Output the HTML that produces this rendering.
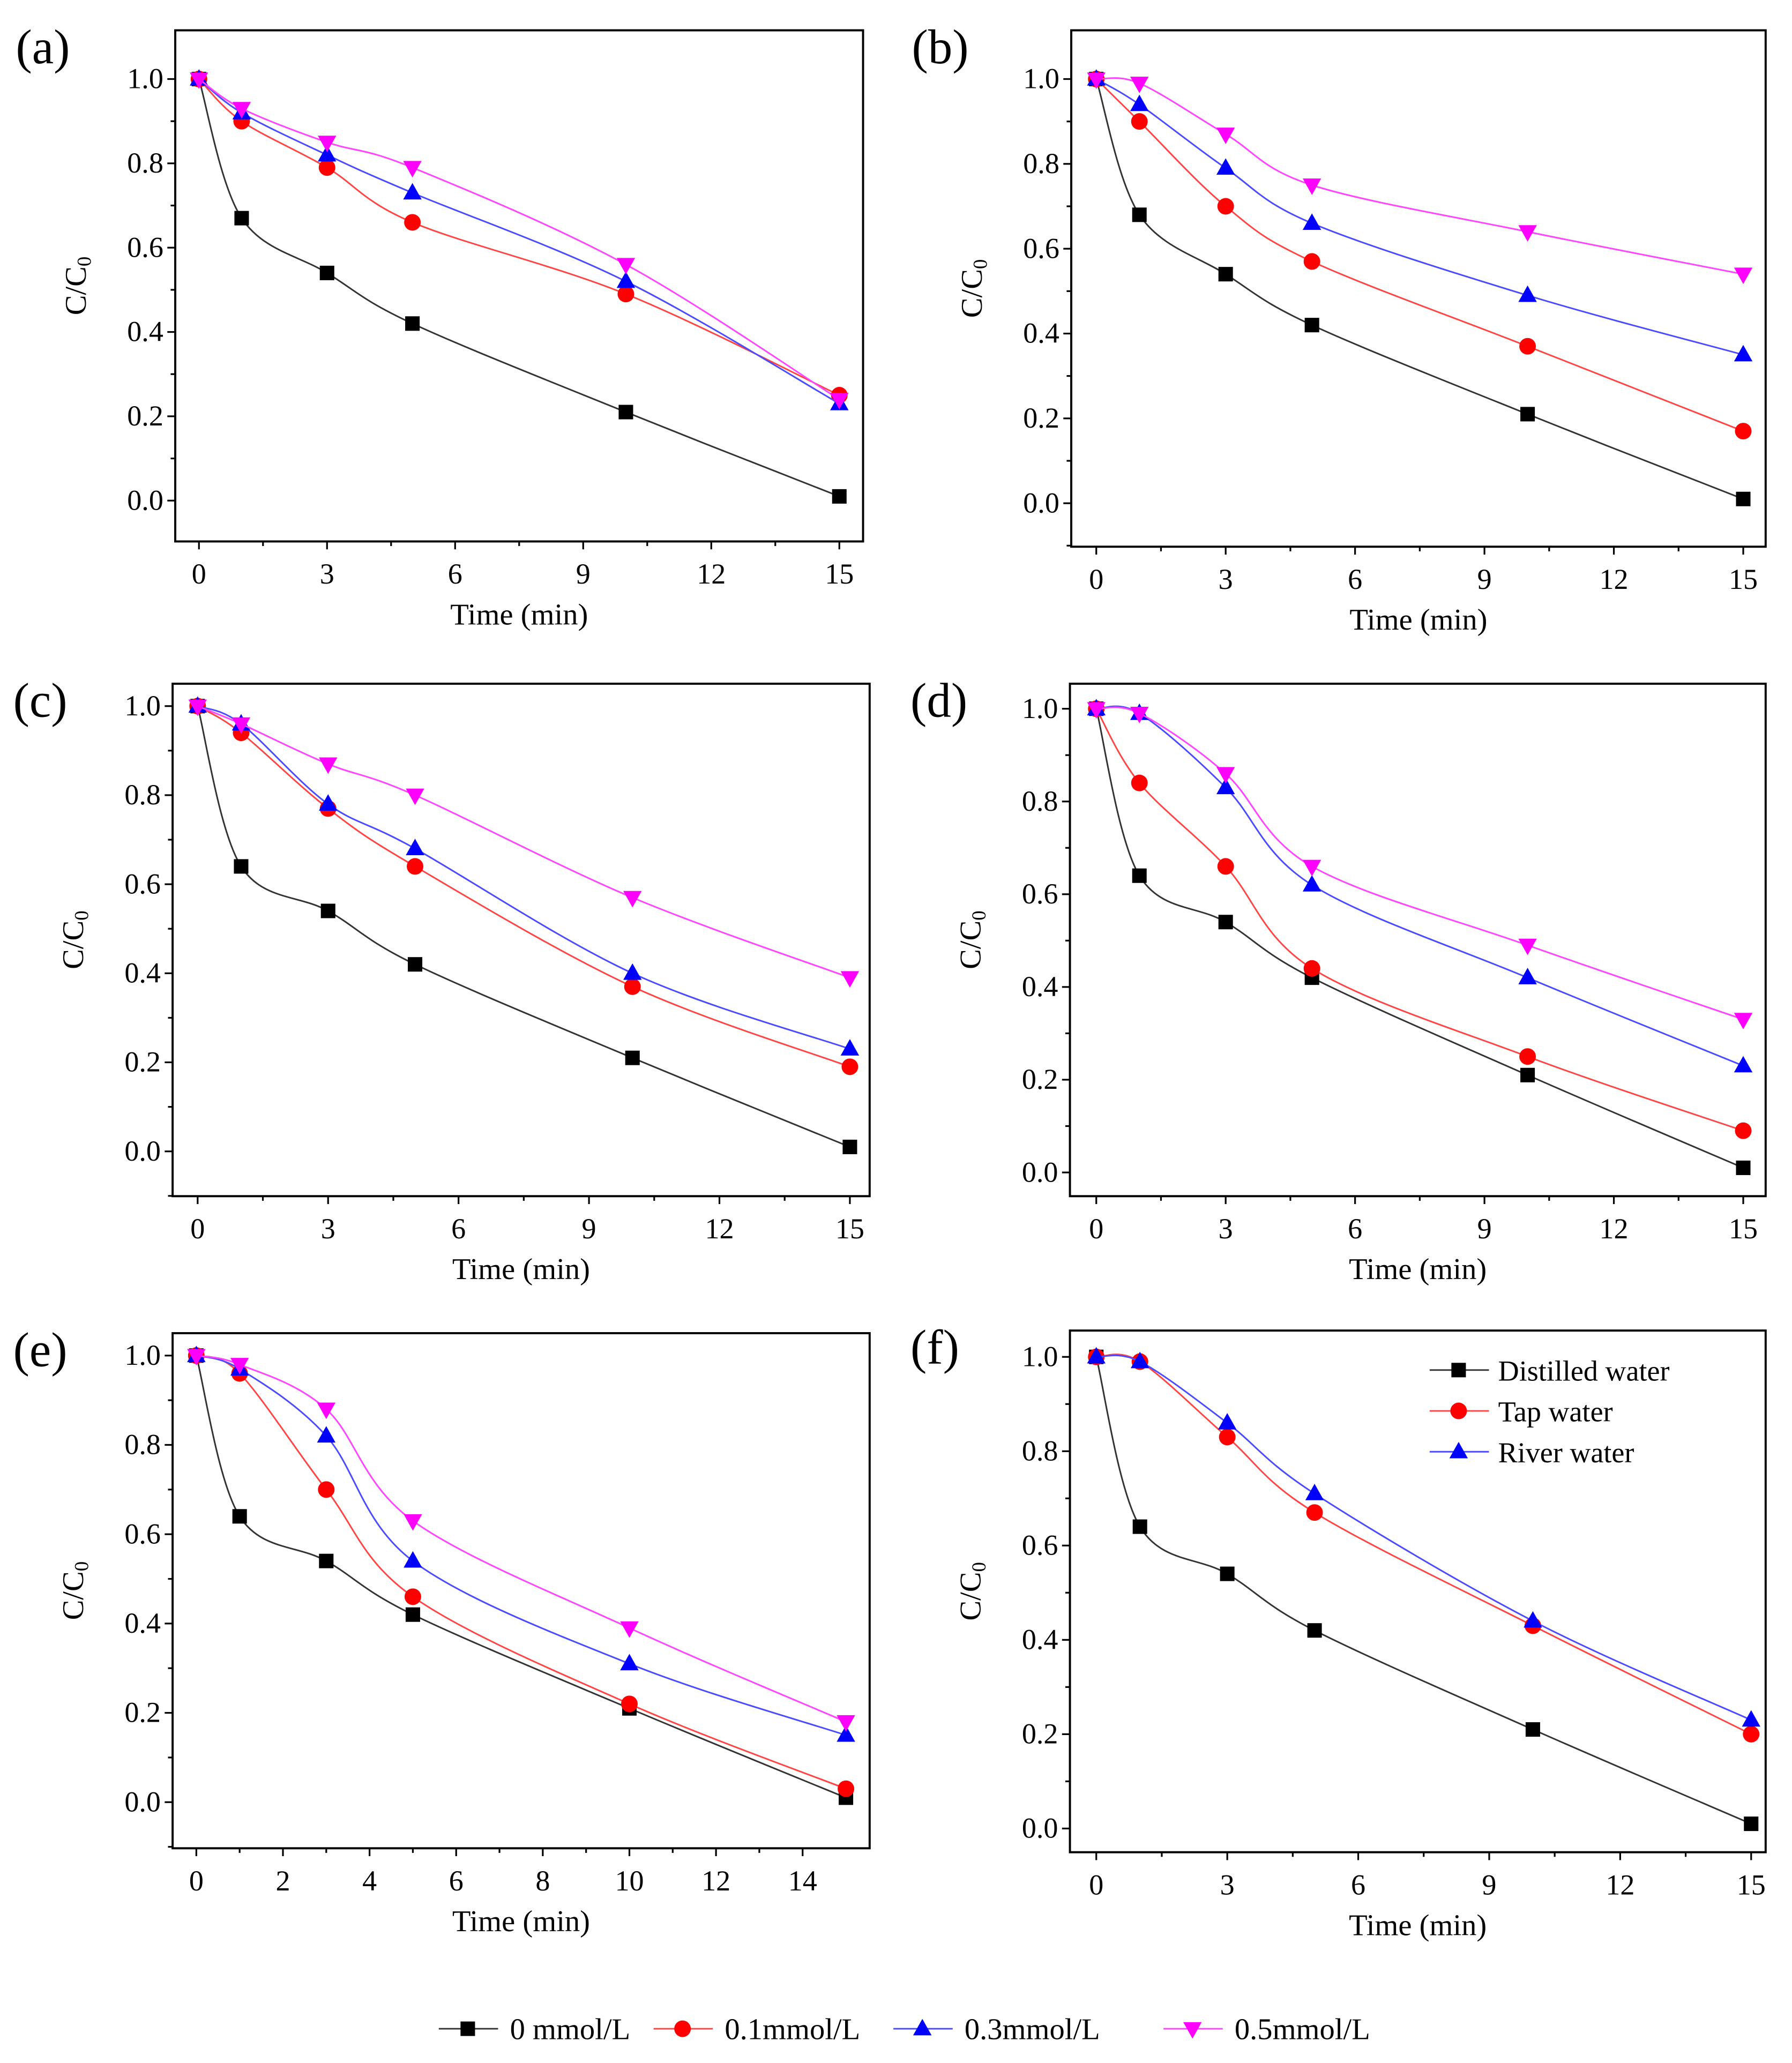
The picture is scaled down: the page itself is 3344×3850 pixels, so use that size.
<!DOCTYPE html>
<html><head><meta charset="utf-8"><style>
html,body{margin:0;padding:0;background:#fff;}
svg{display:block;}
text{font-family:"Liberation Serif",serif;fill:#000;}
</style></head><body>
<svg id="fig" width="3344" height="3850" viewBox="0 0 1360 1566" preserveAspectRatio="none" xmlns="http://www.w3.org/2000/svg">
<rect width="1360" height="1566" fill="#fff"/>
</svg>
<script>
const times = [0, 1, 3, 5, 10, 15];
const seriesNames = ["0 mmol/L", "0.1mmol/L", "0.3mmol/L", "0.5mmol/L"];
const a_black = [1, 0.67, 0.54, 0.42, 0.21, 0.01];
const a_red = [1, 0.90, 0.79, 0.66, 0.49, 0.25];
const a_blue = [1, 0.92, 0.82, 0.73, 0.52, 0.23];
const a_mag = [1, 0.93, 0.85, 0.79, 0.56, 0.24];
const b_black = [1, 0.68, 0.54, 0.42, 0.21, 0.01];
const b_red = [1, 0.90, 0.70, 0.57, 0.37, 0.17];
const b_blue = [1, 0.94, 0.79, 0.66, 0.49, 0.35];
const b_mag = [1, 0.99, 0.87, 0.75, 0.64, 0.54];
const c_black = [1, 0.64, 0.54, 0.42, 0.21, 0.01];
const c_red = [1, 0.94, 0.77, 0.64, 0.37, 0.19];
const c_blue = [1, 0.96, 0.78, 0.68, 0.40, 0.23];
const c_mag = [1, 0.96, 0.87, 0.80, 0.57, 0.39];
const d_black = [1, 0.64, 0.54, 0.42, 0.21, 0.01];
const d_red = [1, 0.84, 0.66, 0.44, 0.25, 0.09];
const d_blue = [1, 0.99, 0.83, 0.62, 0.42, 0.23];
const d_mag = [1, 0.99, 0.86, 0.66, 0.49, 0.33];
const e_black = [1, 0.64, 0.54, 0.42, 0.21, 0.01];
const e_red = [1, 0.96, 0.70, 0.46, 0.22, 0.03];
const e_blue = [1, 0.97, 0.82, 0.54, 0.31, 0.15];
const e_mag = [1, 0.98, 0.88, 0.63, 0.39, 0.18];
const f_black = [1, 0.64, 0.54, 0.42, 0.21, 0.01];
const f_red = [1, 0.99, 0.83, 0.67, 0.43, 0.20];
const f_blue = [1, 0.99, 0.86, 0.71, 0.44, 0.23];
const xTicks15 = [0, 3, 6, 9, 12, 15];
const xTicks14 = [0, 2, 4, 6, 8, 10, 12, 14];
const yTicks = [0.0, 0.2, 0.4, 0.6, 0.8, 1.0];
const fLegendNames = ["Distilled water", "Tap water", "River water"];

const NS = "http://www.w3.org/2000/svg";
const svg = document.getElementById("fig");
function el(tag, attrs, parent) {
  const e = document.createElementNS(NS, tag);
  for (const k in attrs) e.setAttribute(k, attrs[k]);
  (parent || svg).appendChild(e);
  return e;
}
const colors = ["#000000", "#ff0000", "#0000ff", "#ff00ff"];
const lineColors = ["#333333", "#ff4444", "#4a4aff", "#ff44ff"];

function marker(g, type, x, y, col) {
  let m;
  if (type === 0) m = el("rect", {x: x - 5.5, y: y - 5.5, width: 11, height: 11, fill: col}, g);
  else if (type === 1) m = el("circle", {cx: x, cy: y, r: 6.3, fill: col}, g);
  else if (type === 2) m = el("polygon", {points: `${x},${y-7.5} ${x+7},${y+5} ${x-7},${y+5}`, fill: col}, g);
  else m = el("polygon", {points: `${x},${y+7.5} ${x+7},${y-5} ${x-7},${y-5}`, fill: col}, g);
  return m;
}
function curvePath(pts) {
  let d = `M${pts[0][0]},${pts[0][1]}`;
  for (let i = 0; i < pts.length - 1; i++) {
    const p0 = pts[i - 1] || pts[i], p1 = pts[i], p2 = pts[i + 1], p3 = pts[i + 2] || p2;
    const c1 = [p1[0] + (p2[0] - p0[0]) / 6, p1[1] + (p2[1] - p0[1]) / 6];
    const c2 = [p2[0] - (p3[0] - p1[0]) / 6, p2[1] - (p3[1] - p1[1]) / 6];
    d += ` C${c1[0]},${c1[1]} ${c2[0]},${c2[1]} ${p2[0]},${p2[1]}`;
  }
  return d;
}

function panel(cfg) {
  const g = el("g", {});
  
  
  const xs = v => cfg.x0 + (v / 15) * (cfg.x15 - cfg.x0);
  const ys = v => cfg.y0 + v * (cfg.y1 - cfg.y0);
  const lab = el("text", {x: cfg.fl - 121, y: cfg.ft + 25, "font-size": 37}, g);
  lab.textContent = "(" + cfg.id + ")";
  
  
  const tg = el("g", {stroke: "#000", "stroke-width": 1.3}, g);
  cfg.xt.forEach((t, i) => {
    const x = xs(t);
    el("line", {x1: x, y1: cfg.fb, x2: x, y2: cfg.fb + 6}, tg);
    if (i < cfg.xt.length - 1) {
      const xm = xs((t + cfg.xt[i + 1]) / 2);
      el("line", {x1: xm, y1: cfg.fb, x2: xm, y2: cfg.fb + 3.5}, tg);
    }
    const tx = el("text", {x: x, y: cfg.fb + 32, "font-size": 22, "text-anchor": "middle"}, g);
    tx.textContent = t;
    
    
  });
  [-0.1].concat(yTicks).forEach(t => {
    const y = ys(t);
    if (y > cfg.fb + 0.5 || y < cfg.ft - 0.5) return;
    const major = Math.abs(t * 5 - Math.round(t * 5)) < 1e-6;
    el("line", {x1: cfg.fl, y1: y, x2: cfg.fl - (major ? 6 : 3.5), y2: y}, tg);
    if (major) {
      if (t < 0.95) el("line", {x1: cfg.fl, y1: ys(t + 0.1), x2: cfg.fl - 3.5, y2: ys(t + 0.1)}, tg);
      const ty = el("text", {x: cfg.fl - 9, y: y + 7, "font-size": 22, "text-anchor": "end"}, g);
      ty.textContent = t.toFixed(1);
      
      
    }
  });
  el("rect", {x: cfg.fl, y: cfg.ft, width: cfg.fr - cfg.fl, height: cfg.fb - cfg.ft, fill: "none", stroke: "#000", "stroke-width": 1.6}, g);
  const xt = el("text", {x: (cfg.fl + cfg.fr) / 2, y: cfg.fb + 63, "font-size": 23, "text-anchor": "middle"}, g);
  xt.textContent = "Time (min)";
  
  
  const ycx = cfg.fl - 68, ycy = (cfg.ft + cfg.fb) / 2;
  const yt = el("text", {x: ycx, y: ycy, "font-size": 23, "text-anchor": "middle", transform: `rotate(-90 ${ycx} ${ycy})`}, g);
  yt.innerHTML = 'C/C<tspan font-size="15" dy="4">0</tspan>';
  
  
  cfg.series.forEach((vals, si) => {
    const sg = el("g", {}, g);
    
    
    const pts = times.map((t, i) => [xs(t), ys(vals[i])]);
    el("path", {d: curvePath(pts), fill: "none", stroke: lineColors[si], "stroke-width": 1.2}, sg);
    pts.forEach(p => {
      const m = marker(sg, si, p[0], p[1], colors[si]);
      
      
    });
  });
  return g;
}

panel({id: "a", fl: 133, fr: 655, ft: 23, fb: 411, x0: 151, x15: 637, y0: 380, y1: 60, xt: xTicks15, series: [a_black, a_red, a_blue, a_mag]});
panel({id: "b", fl: 813, fr: 1340, ft: 23, fb: 415, x0: 832, x15: 1323, y0: 382, y1: 60, xt: xTicks15, series: [b_black, b_red, b_blue, b_mag]});
panel({id: "c", fl: 131, fr: 660, ft: 519, fb: 908, x0: 150, x15: 645, y0: 874, y1: 536, xt: xTicks15, series: [c_black, c_red, c_blue, c_mag]});
panel({id: "d", fl: 812, fr: 1340, ft: 519, fb: 908, x0: 832, x15: 1323, y0: 890, y1: 538, xt: xTicks15, series: [d_black, d_red, d_blue, d_mag]});
panel({id: "e", fl: 131, fr: 660, ft: 1012, fb: 1403, x0: 149, x15: 642, y0: 1368, y1: 1029, xt: xTicks14, series: [e_black, e_red, e_blue, e_mag]});
panel({id: "f", fl: 812, fr: 1340, ft: 1010, fb: 1406, x0: 832, x15: 1329, y0: 1388, y1: 1030, xt: xTicks15, series: [f_black, f_red, f_blue]});

const lf = el("g", {});


fLegendNames.forEach((n, i) => {
  const y = 1040 + i * 31;
  const eg = el("g", {}, lf);
  
  
  el("line", {x1: 1085, y1: y, x2: 1130, y2: y, stroke: lineColors[i], "stroke-width": 1.2}, eg);
  marker(eg, i, 1107, y, colors[i]);
  const t = el("text", {x: 1137, y: y + 8, "font-size": 22}, eg);
  t.textContent = n;
});

const lb = el("g", {});


const lbx = [333, 496, 678, 883];
seriesNames.forEach((n, i) => {
  const y = 1540, x = lbx[i];
  const eg = el("g", {}, lb);
  
  
  el("line", {x1: x, y1: y, x2: x + 45, y2: y, stroke: lineColors[i], "stroke-width": 1.2}, eg);
  marker(eg, i, x + 22, y, colors[i]);
  const t = el("text", {x: x + 54, y: y + 8, "font-size": 23}, eg);
  t.textContent = n;
});
</script>
</body></html>
